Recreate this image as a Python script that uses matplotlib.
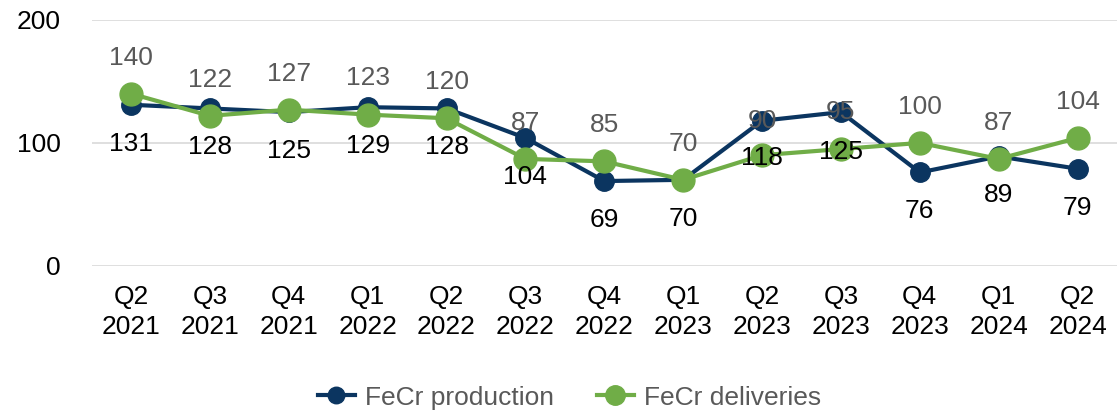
import matplotlib.pyplot as plt

plt.rcParams['font.family'] = ['Liberation Sans', 'DejaVu Sans']

# Data
quarters = ['Q2\n2021', 'Q3\n2021', 'Q4\n2021', 'Q1\n2022', 'Q2\n2022', 'Q3\n2022', 'Q4\n2022',
            'Q1\n2023', 'Q2\n2023', 'Q3\n2023', 'Q4\n2023', 'Q1\n2024', 'Q2\n2024']
production = [131, 128, 125, 129, 128, 104, 69, 70, 118, 125, 76, 89, 79]
deliveries = [140, 122, 127, 123, 120, 87, 85, 70, 90, 95, 100, 87, 104]
# quarters where the labels sit on the other series' marker
swapped = [8, 9]

navy = '#0b3560'
green = '#70ad47'

fig = plt.figure(figsize=(11.17, 4.13), dpi=100)
ax = fig.add_axes([0.082, 0.356, 0.918, 0.596])

x = list(range(len(quarters)))
ax.plot(x, production, color=navy, lw=3, marker='o', ms=14, label='FeCr production', zorder=3)
ax.plot(x, deliveries, color=green, lw=3, marker='o', ms=16.5, label='FeCr deliveries', zorder=4)

for i in x:
    if i in swapped:
        ax.annotate(str(production[i]), (i, deliveries[i]), xytext=(0, -2),
                    textcoords='offset points', ha='center', va='center',
                    fontsize=19, color='black', zorder=6)
        ax.annotate(str(deliveries[i]), (i, production[i]), ha='center', va='center',
                    fontsize=19, color='#595959', zorder=6)
    else:
        ax.annotate(str(production[i]), (i, production[i]), xytext=(0, -28),
                    textcoords='offset points', ha='center', va='center',
                    fontsize=19, color='black', zorder=6)
        ax.annotate(str(deliveries[i]), (i, deliveries[i]), xytext=(0, 26),
                    textcoords='offset points', ha='center', va='center',
                    fontsize=19, color='#595959', zorder=6)

ax.set_xlim(-0.5, 12.5)
ax.set_ylim(0, 200)
ax.set_yticks([0, 100, 200])
ax.set_xticks(x)
ax.set_xticklabels(quarters, fontsize=19, linespacing=1.3)
ax.tick_params(axis='y', labelsize=19, length=0, pad=22)
ax.tick_params(axis='x', length=0, pad=14)
ax.grid(axis='y', color='#d9d9d9', lw=1.2)
ax.set_axisbelow(True)
for s in ax.spines.values():
    s.set_visible(False)

leg = fig.legend(loc='center', bbox_to_anchor=(0.51, 0.037), ncol=2, frameon=False,
                 fontsize=19, handlelength=1.4, columnspacing=1.6, handletextpad=0.4,
                 markerscale=0.85)
for t in leg.get_texts():
    t.set_color('#595959')

fig.savefig('out.png', dpi=100)
